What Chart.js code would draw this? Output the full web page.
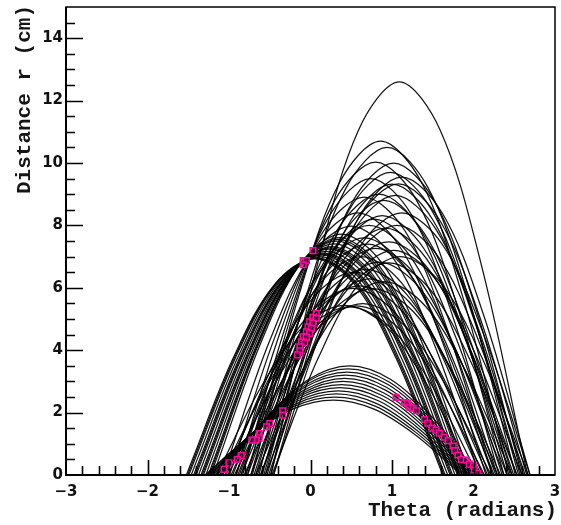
<!DOCTYPE html>
<html>
<head>
<meta charset="utf-8">
<script src="https://cdn.jsdelivr.net/npm/chart.js@4.4.1/dist/chart.umd.min.js"></script>
<style>
html,body{margin:0;padding:0;background:#fff;}
canvas{display:block;}
</style>
</head>
<body>
<canvas id="c" width="561" height="525"></canvas>
<script>
// ---- axis ticks ----
const xTickValues = [-3, -2, -1, 0, 1, 2, 3];
const xTickLabels = ['\u22123', '\u22122', '\u22121', '0', '1', '2', '3'];
const yTickValues = [0, 2, 4, 6, 8, 10, 12, 14];
const yTickLabels = ['0', '2', '4', '6', '8', '10', '12', '14'];
const xTitle = 'Theta (radians)';
const yTitle = 'Distance r (cm)';

// ---- magenta cells (theta, r) ----
const magentaTheta = [0.03, -0.09, -0.05, -0.09,
  0.07, 0.03, 0.07, -0.01, 0.03, -0.03, 0.01, -0.05, -0.01, -0.09, -0.05, -0.11, -0.07, -0.13, -0.13, -0.16,
  -0.34, -0.34, -0.50, -0.54, -0.63, -0.63, -0.67, -0.72, -0.85, -0.90, -1.00, -1.06,
  1.05, 1.15, 1.19, 1.21, 1.26, 1.30, 1.40, 1.44, 1.49, 1.54, 1.58, 1.64, 1.69, 1.75, 1.77, 1.81, 1.85, 1.91, 1.95, 2.00, 2.01, 2.05];
const magentaR = [7.19, 6.87, 6.87, 6.74,
  5.18, 5.05, 5.02, 4.91, 4.86, 4.75, 4.70, 4.59, 4.54, 4.43, 4.41, 4.27, 4.24, 4.11, 3.98, 3.85,
  2.06, 1.92, 1.65, 1.54, 1.33, 1.19, 1.12, 1.12, 0.62, 0.50, 0.39, 0.18,
  2.49, 2.32, 2.30, 2.17, 2.14, 2.06, 1.78, 1.66, 1.50, 1.44, 1.34, 1.21, 1.10, 0.93, 0.78, 0.64, 0.50, 0.48, 0.35, 0.29, 0.16, 0.05];

const curveTheta = [
  [-1.95,-1.45,-0.95,-0.45,0.05,0.55,1.05,1.55,2.05],
  [-1.935,-1.435,-0.935,-0.435,0.065,0.565,1.065,1.565,2.065],
  [-1.92,-1.42,-0.92,-0.42,0.08,0.58,1.08,1.58,2.08],
  [-1.89,-1.39,-0.89,-0.39,0.11,0.61,1.11,1.61,2.11],
  [-1.86,-1.36,-0.86,-0.36,0.14,0.64,1.14,1.64,2.14],
  [-1.845,-1.345,-0.845,-0.345,0.155,0.655,1.155,1.655,2.155],
  [-1.83,-1.33,-0.83,-0.33,0.17,0.67,1.17,1.67,2.17],
  [-1.80,-1.30,-0.80,-0.30,0.20,0.70,1.20,1.70,2.20],
  [-1.77,-1.27,-0.77,-0.27,0.23,0.73,1.23,1.73,2.23],
  [-1.755,-1.255,-0.755,-0.255,0.245,0.745,1.245,1.745,2.245],
  [-1.74,-1.24,-0.74,-0.24,0.26,0.76,1.26,1.76,2.26],
  [-1.71,-1.21,-0.71,-0.21,0.29,0.79,1.29,1.79,2.29],
  [-1.68,-1.18,-0.68,-0.18,0.32,0.82,1.32,1.82,2.32],
  [-1.665,-1.165,-0.665,-0.165,0.335,0.835,1.335,1.835,2.335],
  [-1.65,-1.15,-0.65,-0.15,0.35,0.85,1.35,1.85,2.35],
  [-1.62,-1.12,-0.62,-0.12,0.38,0.88,1.38,1.88,2.38],
  // low family
  [-1.52,-1.02,-0.52,-0.02,0.48,0.98,1.48,1.98,2.48],
  [-1.54,-1.04,-0.54,-0.04,0.46,0.96,1.46,1.96,2.46],
  [-1.55,-1.05,-0.55,-0.05,0.45,0.95,1.45,1.95,2.45],
  [-1.57,-1.07,-0.57,-0.07,0.43,0.93,1.43,1.93,2.43],
  [-1.58,-1.08,-0.58,-0.08,0.42,0.92,1.42,1.92,2.42],
  [-1.60,-1.10,-0.60,-0.10,0.40,0.90,1.40,1.90,2.40],
  [-1.62,-1.12,-0.62,-0.12,0.38,0.88,1.38,1.88,2.38],
  [-1.64,-1.14,-0.64,-0.14,0.36,0.86,1.36,1.86,2.36],
  [-1.66,-1.16,-0.66,-0.16,0.34,0.84,1.34,1.84,2.34],
  [-1.68,-1.18,-0.68,-0.18,0.32,0.82,1.32,1.82,2.32],
  [-1.70,-1.20,-0.70,-0.20,0.30,0.80,1.30,1.80,2.30],
  [-1.72,-1.22,-0.72,-0.22,0.28,0.78,1.28,1.78,2.28],
  // tall family through (0, 7)
  [-1.50,-1.00,-0.50,0.00,0.50,1.00,1.50,2.00,2.50],
  [-1.42,-0.92,-0.42,0.08,0.58,1.08,1.58,2.08,2.58],
  [-1.34,-0.84,-0.34,0.16,0.66,1.16,1.66,2.16,2.66],
  [-1.26,-0.76,-0.26,0.24,0.74,1.24,1.74,2.24,2.74],
  [-1.20,-0.70,-0.20,0.30,0.80,1.30,1.80,2.30,2.80],
  [-1.14,-0.64,-0.14,0.36,0.86,1.36,1.86,2.36,2.86],
  // tall family fan
  [-1.58,-1.08,-0.58,-0.08,0.42,0.92,1.42,1.92,2.42],
  [-1.52,-1.02,-0.52,-0.02,0.48,0.98,1.48,1.98,2.48],
  [-1.48,-0.98,-0.48,0.02,0.52,1.02,1.52,2.02,2.52],
  [-1.44,-0.94,-0.44,0.06,0.56,1.06,1.56,2.06,2.56],
  [-1.40,-0.90,-0.40,0.10,0.60,1.10,1.60,2.10,2.60],
  [-1.36,-0.86,-0.36,0.14,0.64,1.14,1.64,2.14,2.64],
  [-1.32,-0.82,-0.32,0.18,0.68,1.18,1.68,2.18,2.68],
  [-1.28,-0.78,-0.28,0.22,0.72,1.22,1.72,2.22,2.72],
  [-1.24,-0.74,-0.24,0.26,0.76,1.26,1.76,2.26,2.76],
  [-1.20,-0.70,-0.20,0.30,0.80,1.30,1.80,2.30,2.80],
  [-1.16,-0.66,-0.16,0.34,0.84,1.34,1.84,2.34,2.84],
  [-1.12,-0.62,-0.12,0.38,0.88,1.38,1.88,2.38,2.88],
  [-1.08,-0.58,-0.08,0.42,0.92,1.42,1.92,2.42,2.92],
  [-1.04,-0.54,-0.04,0.46,0.96,1.46,1.96,2.46,2.96],
  [-1.00,-0.50,0.00,0.50,1.00,1.50,2.00,2.50,3.00],
  [-0.96,-0.46,0.04,0.54,1.04,1.54,2.04,2.54,3.04],
  [-0.92,-0.42,0.08,0.58,1.08,1.58,2.08,2.58,3.08],
  [-0.88,-0.38,0.12,0.62,1.12,1.62,2.12,2.62,3.12],
  [-0.91,-0.41,0.09,0.59,1.09,1.59,2.09,2.59,3.09],
  [-1.06,-0.56,-0.06,0.44,0.94,1.44,1.94,2.44,2.94],
  [-1.02,-0.52,-0.02,0.48,0.98,1.48,1.98,2.48,2.98],
  [-1.30,-0.80,-0.30,0.20,0.70,1.20,1.70,2.20,2.70],
  [-1.38,-0.88,-0.38,0.12,0.62,1.12,1.62,2.12,2.62],
  [-0.88,-0.38,0.12,0.62,1.12,1.62,2.12,2.62,3.12],
  [-0.98,-0.48,0.02,0.52,1.02,1.52,2.02,2.52,3.02],
  [-1.10,-0.60,-0.10,0.40,0.90,1.40,1.90,2.40,2.90],
  [-1.34,-0.84,-0.34,0.16,0.66,1.16,1.66,2.16,2.66],
  [-1.22,-0.72,-0.22,0.28,0.78,1.28,1.78,2.28,2.78],
  [-1.10,-0.60,-0.10,0.40,0.90,1.40,1.90,2.40,2.90],
  [-0.98,-0.48,0.02,0.52,1.02,1.52,2.02,2.52,3.02],
  [-1.28,-0.78,-0.28,0.22,0.72,1.22,1.72,2.22,2.72],
  [-1.16,-0.66,-0.16,0.34,0.84,1.34,1.84,2.34,2.84],
  [-0.94,-0.44,0.06,0.56,1.06,1.56,2.06,2.56,3.06],
  [-1.04,-0.54,-0.04,0.46,0.96,1.46,1.96,2.46,2.96],
  [-1.46,-0.96,-0.46,0.04,0.54,1.04,1.54,2.04,2.54],
  [-0.90,-0.40,0.10,0.60,1.10,1.60,2.10,2.60,3.10]
];
const curveR = [
  [-2.88,0.49,3.74,6.08,6.93,6.08,3.74,0.49,-2.88],
  [-2.89,0.49,3.75,6.10,6.95,6.10,3.75,0.49,-2.89],
  [-2.90,0.49,3.76,6.11,6.96,6.11,3.76,0.49,-2.90],
  [-2.91,0.50,3.78,6.15,7.00,6.15,3.78,0.50,-2.91],
  [-2.93,0.50,3.81,6.19,7.05,6.19,3.81,0.50,-2.93],
  [-2.95,0.50,3.82,6.22,7.08,6.22,3.82,0.50,-2.95],
  [-2.96,0.50,3.84,6.24,7.11,6.24,3.84,0.50,-2.96],
  [-2.98,0.51,3.87,6.30,7.17,6.30,3.87,0.51,-2.98],
  [-3.01,0.51,3.91,6.36,7.24,6.36,3.91,0.51,-3.01],
  [-3.03,0.52,3.93,6.39,7.28,6.39,3.93,0.52,-3.03],
  [-3.05,0.52,3.95,6.43,7.32,6.43,3.95,0.52,-3.05],
  [-3.08,0.53,4.00,6.51,7.41,6.51,4.00,0.53,-3.08],
  [-3.12,0.53,4.05,6.59,7.50,6.59,4.05,0.53,-3.12],
  [-3.14,0.54,4.08,6.63,7.55,6.63,4.08,0.54,-3.14],
  [-3.17,0.54,4.11,6.68,7.61,6.68,4.11,0.54,-3.17],
  [-3.21,0.55,4.17,6.78,7.72,6.78,4.17,0.55,-3.21],
  // low family
  [-1.46,0.25,1.89,3.07,3.50,3.07,1.89,0.25,-1.46],
  [-1.41,0.24,1.84,2.99,3.40,2.99,1.84,0.24,-1.41],
  [-1.37,0.23,1.78,2.90,3.30,2.90,1.78,0.23,-1.37],
  [-1.33,0.23,1.73,2.81,3.20,2.81,1.73,0.23,-1.33],
  [-1.29,0.22,1.67,2.72,3.10,2.72,1.67,0.22,-1.29],
  [-1.25,0.21,1.62,2.63,3.00,2.63,1.62,0.21,-1.25],
  [-1.21,0.21,1.57,2.55,2.90,2.55,1.57,0.21,-1.21],
  [-1.16,0.20,1.51,2.46,2.80,2.46,1.51,0.20,-1.16],
  [-1.12,0.19,1.46,2.37,2.70,2.37,1.46,0.19,-1.12],
  [-1.08,0.18,1.40,2.28,2.60,2.28,1.40,0.18,-1.08],
  [-1.04,0.18,1.35,2.20,2.50,2.20,1.35,0.18,-1.04],
  [-1.00,0.17,1.30,2.11,2.40,2.11,1.30,0.17,-1.00],
  // tall family through (0, 7)
  [-3.32,0.57,4.31,7.01,7.98,7.01,4.31,0.57,-3.32],
  [-3.49,0.60,4.54,7.38,8.40,7.38,4.54,0.60,-3.49],
  [-3.71,0.63,4.81,7.82,8.91,7.82,4.81,0.63,-3.71],
  [-3.95,0.67,5.13,8.34,9.50,8.34,5.13,0.67,-3.95],
  [-4.17,0.71,5.42,8.81,10.03,8.81,5.42,0.71,-4.17],
  [-4.45,0.76,5.78,9.39,10.70,9.39,5.78,0.76,-4.45],
  // tall family fan
  [-2.26,0.39,2.94,4.78,5.44,4.78,2.94,0.39,-2.26],
  [-2.24,0.38,2.91,4.73,5.39,4.73,2.91,0.38,-2.24],
  [-2.49,0.42,3.23,5.25,5.98,5.25,3.23,0.42,-2.49],
  [-2.25,0.38,2.93,4.76,5.42,4.76,2.93,0.38,-2.25],
  [-2.52,0.43,3.27,5.32,6.06,5.32,3.27,0.43,-2.52],
  [-2.28,0.39,2.96,4.82,5.49,4.82,2.96,0.39,-2.28],
  [-2.74,0.47,3.56,5.79,6.59,5.79,3.56,0.47,-2.74],
  [-2.62,0.45,3.40,5.52,6.29,5.52,3.40,0.45,-2.62],
  [-2.48,0.42,3.22,5.24,5.97,5.24,3.22,0.42,-2.48],
  [-3.02,0.52,3.92,6.37,7.26,6.37,3.92,0.52,-3.02],
  [-2.84,0.48,3.68,5.99,6.82,5.99,3.68,0.48,-2.84],
  [-3.46,0.59,4.49,7.30,8.31,7.30,4.49,0.59,-3.46],
  [-3.29,0.56,4.27,6.94,7.91,6.94,4.27,0.56,-3.29],
  [-3.11,0.53,4.03,6.56,7.47,6.56,4.03,0.53,-3.11],
  [-3.88,0.66,5.03,8.18,9.32,8.18,5.03,0.66,-3.88],
  [-3.73,0.64,4.84,7.87,8.96,7.87,4.84,0.64,-3.73],
  [-3.88,0.66,5.04,8.19,9.33,8.19,5.04,0.66,-3.88],
  [-3.97,0.68,5.16,8.38,9.55,8.38,5.16,0.68,-3.97],
  [-5.24,0.89,6.80,11.06,12.60,11.06,6.80,0.89,-5.24],
  [-4.37,0.75,5.67,9.22,10.50,9.22,5.67,0.75,-4.37],
  [-4.04,0.69,5.24,8.52,9.70,8.52,5.24,0.69,-4.04],
  [-3.08,0.53,4.00,6.50,7.40,6.50,4.00,0.53,-3.08],
  [-2.91,0.50,3.78,6.15,7.00,6.15,3.78,0.50,-2.91],
  [-3.49,0.60,4.54,7.38,8.40,7.38,4.54,0.60,-3.49],
  [-3.00,0.51,3.89,6.32,7.20,6.32,3.89,0.51,-3.00],
  [-2.58,0.44,3.35,5.44,6.20,5.44,3.35,0.44,-2.58],
  [-3.16,0.54,4.10,6.67,7.60,6.67,4.10,0.54,-3.16],
  [-3.41,0.58,4.43,7.20,8.20,7.20,4.43,0.58,-3.41],
  [-3.66,0.62,4.75,7.73,8.80,7.73,4.75,0.62,-3.66],
  [-4.16,0.71,5.40,8.78,10.00,8.78,5.40,0.71,-4.16],
  [-3.33,0.57,4.32,7.02,8.00,7.02,4.32,0.57,-3.33],
  [-3.74,0.64,4.86,7.90,9.00,7.90,4.86,0.64,-3.74],
  [-3.33,0.57,4.32,7.02,8.00,7.02,4.32,0.57,-3.33],
  [-2.83,0.48,3.67,5.97,6.80,5.97,3.67,0.48,-2.83],
  [-2.70,0.46,3.51,5.71,6.50,5.71,3.51,0.46,-2.70],
  [-2.91,0.50,3.78,6.15,7.00,6.15,3.78,0.50,-2.91]
];

const datasets = [];
datasets.push({
  data: magentaTheta.map((t, i) => ({x: t, y: magentaR[i]})),
  showLine: false,
  pointStyle: 'rect',
  pointRadius: 4,
  pointBorderWidth: 1.5,
  pointBorderColor: '#ff0a9c',
  pointBackgroundColor: 'rgba(60,0,40,0.6)',
  order: 0
});
curveTheta.forEach((ths, k) => {
  datasets.push({
    data: ths.map((t, i) => ({x: t, y: curveR[k][i]})),
    showLine: true,
    pointRadius: 0,
    borderColor: 'rgba(0,0,0,0.92)',
    borderWidth: 1.25,
    tension: 0.34,
    fill: false,
    order: 1
  });
});

const tickFont = {family: '"DejaVu Sans"', size: 15, weight: 'bold'};

const framePlugin = {
  id: 'frame',
  beforeDraw(chart) {
    const c = chart.ctx;
    c.save(); c.fillStyle = '#fff'; c.fillRect(0, 0, chart.width, chart.height); c.restore();
  },
  afterDatasetsDraw(chart) {
    const c = chart.ctx;
    const a = chart.chartArea;
    const xs = chart.scales.x, ys = chart.scales.y;
    c.save();
    c.strokeStyle = '#000';
    c.lineWidth = 1.5;
    c.strokeRect(a.left, a.top, a.right - a.left, a.bottom - a.top);
    c.lineWidth = 2;
    c.beginPath();
    c.moveTo(a.left, a.top); c.lineTo(a.left, a.bottom); c.lineTo(a.right, a.bottom);
    c.stroke();
    c.lineWidth = 1.6;
    c.beginPath();
    for (let i = 1; i < 30; i++) {
      const v = -3 + i * 0.2;
      const px = Math.round(xs.getPixelForValue(v)) + 0.5;
      const major = Math.abs(v - Math.round(v)) < 1e-6;
      c.moveTo(px, a.bottom); c.lineTo(px, a.bottom - (major ? 15 : 9));
    }
    for (let i = 1; i < 30; i++) {
      const v = i * 0.5;
      const py = Math.round(ys.getPixelForValue(v)) + 0.5;
      const major = Math.abs(v / 2 - Math.round(v / 2)) < 1e-6;
      c.moveTo(a.left, py); c.lineTo(a.left + (major ? 17 : 9), py);
    }
    c.stroke();
    c.restore();
  },
  afterDraw(chart) {
    const c = chart.ctx;
    c.save();
    c.fillStyle = '#151515';
    c.font = 'bold 21px "Liberation Mono"';
    c.textAlign = 'right';
    c.textBaseline = 'middle';
    c.fillText(xTitle, 557, 511);
    c.translate(25, 0);
    c.rotate(-Math.PI / 2);
    c.fillText(yTitle, -5, 0);
    c.restore();
  }
};

new Chart(document.getElementById('c'), {
  type: 'scatter',
  data: {datasets},
  options: {
    responsive: false,
    animation: false,
    devicePixelRatio: 1,
    layout: {padding: {top: 7, right: 6, left: 0, bottom: 0}},
    plugins: {legend: {display: false}, tooltip: {enabled: false}},
    scales: {
      x: {
        type: 'linear', min: -3, max: 3,
        afterBuildTicks: s => { s.ticks = xTickValues.map(v => ({value: v})); },
        afterFit: s => { s.height = 50; s.paddingLeft = 0; s.paddingRight = 0; },
        grid: {display: false, drawTicks: false},
        border: {display: false},
        ticks: {
          autoSkip: false, maxRotation: 0, padding: 8, color: '#111', font: tickFont,
          callback: (v, i) => xTickLabels[i]
        }
      },
      y: {
        type: 'linear', min: 0, max: 15,
        afterBuildTicks: s => { s.ticks = yTickValues.map(v => ({value: v})); },
        afterFit: s => { s.width = 66; s.paddingTop = 0; s.paddingBottom = 0; },
        grid: {display: false, drawTicks: false},
        border: {display: false},
        ticks: {
          autoSkip: false, padding: 3, color: '#111', font: tickFont,
          callback: (v, i) => yTickLabels[i]
        }
      }
    }
  },
  plugins: [framePlugin]
});
</script>
</body>
</html>
